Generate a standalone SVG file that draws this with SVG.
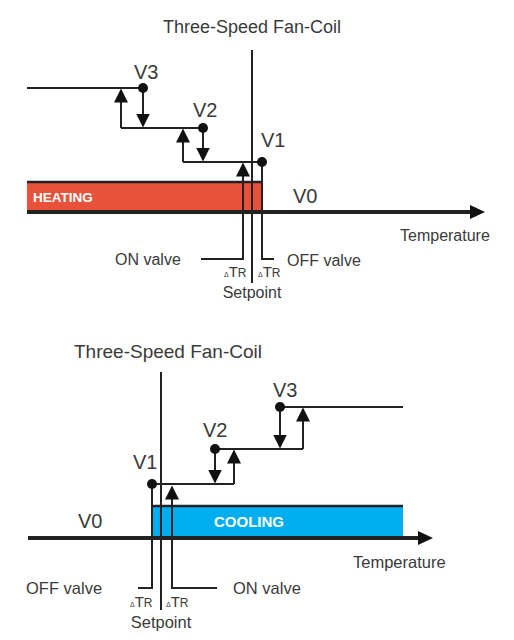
<svg xmlns="http://www.w3.org/2000/svg" width="514" height="640" viewBox="0 0 514 640">
<style>
text{font-family:"Liberation Sans",Arial,sans-serif;fill:#3a3a3a}
.ln{fill:none;stroke:#222;stroke-width:2}
.ax{fill:none;stroke:#222;stroke-width:4}
.edge{fill:none;stroke:#222;stroke-width:2.5}
.dot{fill:#111}
.v{font-size:20px}
.lbl{font-size:16px}
.ttl{font-size:18px}
.bar{font-weight:bold;fill:#fff}
.d{font-size:7px}
.t{font-size:15px}
.r{font-size:12px}
</style>
<defs>
<marker id="ah" markerUnits="userSpaceOnUse" viewBox="0 0 14 14" markerWidth="14" markerHeight="14" refX="12.5" refY="7" orient="auto">
<path d="M0,0 L14,7 L0,14 z" fill="#111"/>
</marker>
</defs>
<rect width="514" height="640" fill="#fff"/>

<!-- TOP: HEATING -->
<g id="title-top"><text class="ttl" x="252" y="33" text-anchor="middle">Three-Speed Fan-Coil</text></g>
<g id="heating-bar">
<rect x="27" y="182" width="235" height="30" fill="#E8523A"/>
<path class="edge" d="M27,182 H262"/>
<text class="bar" x="33" y="202" font-size="13.5">HEATING</text>
</g>
<g id="axis-top">
<path class="ax" d="M27,212 H472"/>
<polygon points="470,205 485,212 470,219" fill="#111"/>
<text class="lbl" x="400" y="241">Temperature</text>
</g>
<g id="connectors-top">
<path class="ln" d="M252,50 V283"/>
<path class="ln" d="M27,88 H143"/>
<path class="ln" d="M121,128 V90" marker-end="url(#ah)"/>
<path class="ln" d="M143,88 V126" marker-end="url(#ah)"/>
<path class="ln" d="M121,128 H203"/>
<path class="ln" d="M183,162 V130" marker-end="url(#ah)"/>
<path class="ln" d="M203,128 V160" marker-end="url(#ah)"/>
<path class="ln" d="M183,162 H262"/>
<path class="ln" d="M201,259 H243 V164" marker-end="url(#ah)"/>
<path class="ln" d="M274,259 H262 V162"/>
</g>
<g id="v3-top"><circle class="dot" cx="143" cy="88" r="5"/><text class="v" x="134" y="79">V3</text></g>
<g id="v2-top"><circle class="dot" cx="203" cy="128" r="5"/><text class="v" x="193" y="117">V2</text></g>
<g id="v1-top"><circle class="dot" cx="262" cy="162" r="5"/><text class="v" x="261" y="147">V1</text></g>
<g id="v0-top"><text class="v" x="293" y="203">V0</text></g>
<g id="labels-top">
<text class="lbl" x="115" y="265">ON valve</text>
<text class="lbl" x="287" y="266">OFF valve</text>
<text x="224" y="277"><tspan class="d">Δ</tspan><tspan class="t">T</tspan><tspan class="r">R</tspan></text>
<text x="258" y="277"><tspan class="d">Δ</tspan><tspan class="t">T</tspan><tspan class="r">R</tspan></text>
<text class="lbl" x="252" y="298" text-anchor="middle">Setpoint</text>
</g>

<!-- BOTTOM: COOLING -->
<g id="title-bottom"><text x="168" y="358" text-anchor="middle" font-size="19">Three-Speed Fan-Coil</text></g>
<g id="cooling-bar">
<rect x="152" y="506" width="251" height="31" fill="#00AEEF"/>
<path class="edge" d="M152,506 H403"/>
<text class="bar" x="214" y="527" font-size="15">COOLING</text>
</g>
<g id="axis-bottom">
<path class="ax" d="M28,538 H420"/>
<polygon points="418,531 433,538 418,545" fill="#111"/>
<text x="353" y="568" font-size="16.5">Temperature</text>
</g>
<g id="connectors-bottom">
<path class="ln" d="M161,372 V610"/>
<path class="ln" d="M138,588 H152 V484 H234"/>
<path class="ln" d="M217,588 H172 V487" marker-end="url(#ah)"/>
<path class="ln" d="M215,449 V482" marker-end="url(#ah)"/>
<path class="ln" d="M234,484 V451" marker-end="url(#ah)"/>
<path class="ln" d="M215,449 H303"/>
<path class="ln" d="M280,407 V447" marker-end="url(#ah)"/>
<path class="ln" d="M303,449 V409" marker-end="url(#ah)"/>
<path class="ln" d="M280,407 H403"/>
</g>
<g id="v1-bottom"><circle class="dot" cx="152" cy="484" r="5"/><text class="v" x="133" y="469">V1</text></g>
<g id="v2-bottom"><circle class="dot" cx="215" cy="449" r="5"/><text class="v" x="203" y="437">V2</text></g>
<g id="v3-bottom"><circle class="dot" cx="280" cy="407" r="5"/><text class="v" x="273" y="397">V3</text></g>
<g id="v0-bottom"><text class="v" x="78" y="528">V0</text></g>
<g id="labels-bottom">
<text x="26" y="594" font-size="16.5">OFF valve</text>
<text x="233" y="594" font-size="16.5">ON valve</text>
<text x="130" y="607"><tspan class="d">Δ</tspan><tspan class="t">T</tspan><tspan class="r">R</tspan></text>
<text x="166" y="607"><tspan class="d">Δ</tspan><tspan class="t">T</tspan><tspan class="r">R</tspan></text>
<text x="161" y="628" text-anchor="middle" font-size="16.5">Setpoint</text>
</g>
</svg>
